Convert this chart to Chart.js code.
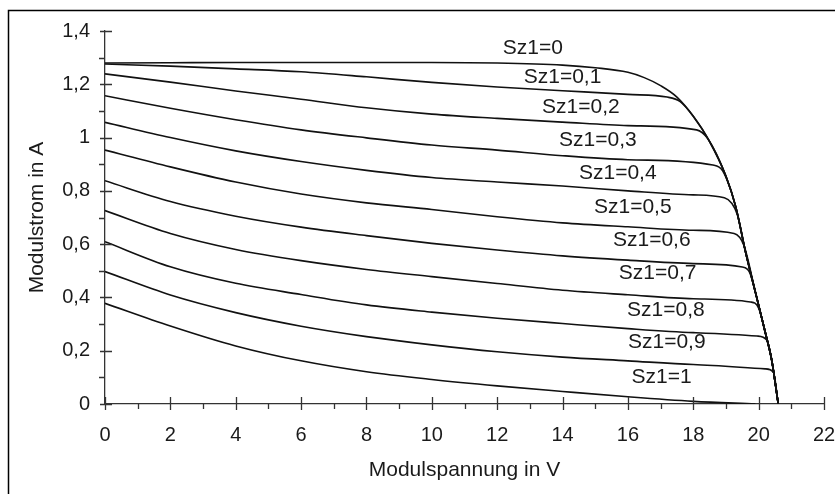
<!DOCTYPE html>
<html>
<head>
<meta charset="utf-8">
<script src="https://cdn.jsdelivr.net/npm/chart.js@4.4.1/dist/chart.umd.min.js"></script>
<style>
  html, body { margin: 0; padding: 0; background: #ffffff; }
  #wrap { position: relative; width: 835px; height: 494px; }
</style>
</head>
<body>
<div id="wrap"><canvas id="c" width="835" height="494"></canvas></div>
<script>
// ---- Data ----
const seriesNames = ['Sz1=0','Sz1=0,1','Sz1=0,2','Sz1=0,3','Sz1=0,4','Sz1=0,5','Sz1=0,6','Sz1=0,7','Sz1=0,8','Sz1=0,9','Sz1=1'];

// [Modulspannung V, Modulstrom A]
const sz1_00 = [[0,1.280],[2,1.281],[4,1.282],[6,1.282],[8,1.282],[10,1.282],[12,1.280],[14,1.272],[15,1.262],[16,1.245],[16.5,1.225],[17,1.195],[17.5,1.152],[18,1.08],[18.5,0.985],[19,0.855],[19.3,0.74],[19.6,0.57],[19.9,0.42],[20.2,0.27],[20.4,0.165],[20.6,0]];
const sz1_01 = [[0,1.276],[2,1.268],[4,1.258],[6,1.247],[8,1.228],[10,1.207],[12,1.19],[14,1.176],[16,1.162],[17.2,1.152],[17.6,1.135],[18,1.08],[18.5,0.985],[19,0.855],[19.3,0.74],[19.6,0.57],[19.9,0.42],[20.2,0.27],[20.4,0.165],[20.6,0]];
const sz1_02 = [[0,1.239],[2,1.208],[4,1.175],[6,1.144],[8,1.112],[10,1.088],[12,1.072],[14,1.058],[16,1.045],[18.1,1.029],[18.45,0.995],[19,0.855],[19.3,0.74],[19.6,0.57],[19.9,0.42],[20.2,0.27],[20.4,0.165],[20.6,0]];
const sz1_03 = [[0,1.157],[2,1.11],[4,1.067],[6,1.029],[8,0.999],[10,0.972],[12,0.953],[14,0.932],[16,0.917],[18.6,0.897],[18.9,0.875],[19.3,0.74],[19.6,0.57],[19.9,0.42],[20.2,0.27],[20.4,0.165],[20.6,0]];
const sz1_04 = [[0,1.057],[2,1.0],[4,0.95],[6,0.91],[8,0.877],[10,0.85],[12,0.833],[14,0.818],[16,0.8],[18,0.785],[18.95,0.774],[19.35,0.71],[19.6,0.57],[19.9,0.42],[20.2,0.27],[20.4,0.165],[20.6,0]];
const sz1_05 = [[0,0.953],[2,0.89],[4,0.833],[6,0.788],[8,0.755],[10,0.73],[12,0.703],[14,0.68],[16,0.665],[18,0.652],[19.25,0.64],[19.55,0.595],[19.9,0.42],[20.2,0.27],[20.4,0.165],[20.6,0]];
const sz1_06 = [[0,0.838],[2,0.76],[4,0.705],[6,0.664],[8,0.632],[10,0.603],[12,0.578],[14,0.556],[16,0.54],[18,0.527],[19.5,0.514],[19.72,0.495],[19.9,0.42],[20.2,0.27],[20.4,0.165],[20.6,0]];
const sz1_07 = [[0,0.726],[2,0.64],[4,0.58],[6,0.538],[8,0.505],[10,0.478],[12,0.452],[14,0.427],[16,0.41],[18,0.395],[19.75,0.383],[20.0,0.36],[20.2,0.27],[20.4,0.165],[20.6,0]];
const sz1_08 = [[0,0.609],[2,0.515],[4,0.453],[6,0.411],[8,0.372],[10,0.345],[12,0.322],[14,0.302],[16,0.283],[18,0.268],[19.95,0.255],[20.25,0.24],[20.4,0.165],[20.6,0]];
const sz1_09 = [[0,0.497],[2,0.409],[4,0.343],[6,0.292],[8,0.253],[10,0.222],[12,0.196],[14,0.176],[16,0.162],[18,0.148],[20.2,0.132],[20.45,0.12],[20.6,0]];
const sz1_10 = [[0,0.378],[2,0.293],[4,0.218],[6,0.162],[8,0.121],[10,0.092],[12,0.068],[14,0.047],[16,0.027],[18,0.01],[19.9,0]];

const allSeries = [sz1_00, sz1_01, sz1_02, sz1_03, sz1_04, sz1_05, sz1_06, sz1_07, sz1_08, sz1_09, sz1_10];

// label anchor positions in data units (V, A)
const labelV = [13.09, 14.0, 14.56, 15.08, 15.69, 16.15, 16.73, 16.91, 17.16, 17.19, 17.03];
const labelI = [1.336, 1.227, 1.115, 0.991, 0.867, 0.739, 0.616, 0.492, 0.353, 0.233, 0.101];

// tick values
const xTicks = [0, 2, 4, 6, 8, 10, 12, 14, 16, 18, 20, 22];
const yTicks = [0, 0.2, 0.4, 0.6, 0.8, 1, 1.2, 1.4];
const xMinorTicks = [1, 3, 5, 7, 9, 11, 13, 15, 17, 19, 21];
const yMinorTicks = [0.1, 0.3, 0.5, 0.7, 0.9, 1.1, 1.3];

const xTitle = 'Modulspannung in V';
const yTitle = 'Modulstrom in A';

// ---- Styles ----
const FONT = "'Liberation Sans', Arial, sans-serif";
const INK = '#1a1a1a';

function fmt(v) {
  return String(Number(v.toFixed(1))).replace('.', ',');
}

const frameAndTicks = {
  id: 'frameAndTicks',
  beforeDraw(chart) {
    const ctx = chart.ctx;
    ctx.save();
    ctx.fillStyle = '#ffffff';
    ctx.fillRect(0, 0, chart.width, chart.height);
    ctx.strokeStyle = '#000';
    ctx.lineWidth = 1.5;
    ctx.beginPath();
    ctx.moveTo(8.5, chart.height);
    ctx.lineTo(8.5, 10.5);
    ctx.lineTo(chart.width, 10.5);
    ctx.stroke();
    ctx.restore();
  },
  afterDraw(chart) {
    const ctx = chart.ctx;
    const xs = chart.scales.x, ys = chart.scales.y;
    const y0 = ys.getPixelForValue(0);
    const x0 = xs.getPixelForValue(0);
    ctx.save();
    ctx.strokeStyle = '#333';
    ctx.lineWidth = 1.3;
    ctx.beginPath();
    xTicks.forEach(v => { const p = Math.round(xs.getPixelForValue(v)) + 0.5; ctx.moveTo(p, y0 - 7); ctx.lineTo(p, y0 + 6); });
    xMinorTicks.forEach(v => { const p = Math.round(xs.getPixelForValue(v)) + 0.5; ctx.moveTo(p, y0); ctx.lineTo(p, y0 + 5); });
    yTicks.forEach(v => { const p = Math.round(ys.getPixelForValue(v)) + 0.5; ctx.moveTo(x0 - 5, p); ctx.lineTo(x0 + 7, p); });
    yMinorTicks.forEach(v => { const p = Math.round(ys.getPixelForValue(v)) + 0.5; ctx.moveTo(x0 - 6, p); ctx.lineTo(x0, p); });
    ctx.stroke();
    ctx.restore();
  },
  afterDatasetsDraw(chart) {
    const ctx = chart.ctx;
    const xs = chart.scales.x, ys = chart.scales.y;
    ctx.save();
    ctx.fillStyle = INK;
    ctx.font = '21px ' + FONT;
    ctx.textAlign = 'center';
    ctx.textBaseline = 'middle';
    seriesNames.forEach((name, i) => {
      ctx.fillText(name, xs.getPixelForValue(labelV[i]), ys.getPixelForValue(labelI[i]));
    });
    ctx.restore();
  }
};

const datasets = allSeries.map((pts, i) => ({
  label: seriesNames[i],
  data: pts.map(p => ({ x: p[0], y: p[1] })),
  showLine: true,
  borderColor: '#111',
  borderWidth: 1.6,
  pointRadius: 0,
  fill: false,
  cubicInterpolationMode: 'monotone'
}));

new Chart(document.getElementById('c'), {
  type: 'scatter',
  data: { datasets },
  options: {
    responsive: false,
    animation: false,
    devicePixelRatio: 1,
    layout: { padding: { left: 0, right: 11, top: 31, bottom: 0 } },
    plugins: { legend: { display: false }, tooltip: { enabled: false } },
    scales: {
      x: {
        type: 'linear', min: 0, max: 22,
        afterBuildTicks(scale) { scale.ticks = xTicks.map(v => ({ value: v })); },
        afterFit(scale) { scale.height = 90; scale.paddingLeft = 0; scale.paddingRight = 0; },
        grid: { display: false, drawTicks: false },
        border: { display: true, color: '#333', width: 1.3 },
        ticks: { padding: 19, color: INK, font: { family: FONT, size: 20 }, callback: v => fmt(v), maxRotation: 0, autoSkip: false },
        title: { display: true, text: xTitle, color: INK, font: { family: FONT, size: 21 }, padding: { top: 0, bottom: 11 } }
      },
      y: {
        type: 'linear', min: 0, max: 1.4,
        afterBuildTicks(scale) { scale.ticks = yTicks.map(v => ({ value: v })); },
        afterFit(scale) { scale.width = 105; scale.paddingTop = 0; scale.paddingBottom = 0; },
        grid: { display: false, drawTicks: false },
        border: { display: true, color: '#333', width: 1.3 },
        ticks: { padding: 15, color: INK, font: { family: FONT, size: 20 }, callback: v => fmt(v), autoSkip: false },
        title: { display: true, text: yTitle, color: INK, font: { family: FONT, size: 21 }, padding: { top: 25, bottom: 0 } }
      }
    }
  },
  plugins: [frameAndTicks]
});
</script>
</body>
</html>
